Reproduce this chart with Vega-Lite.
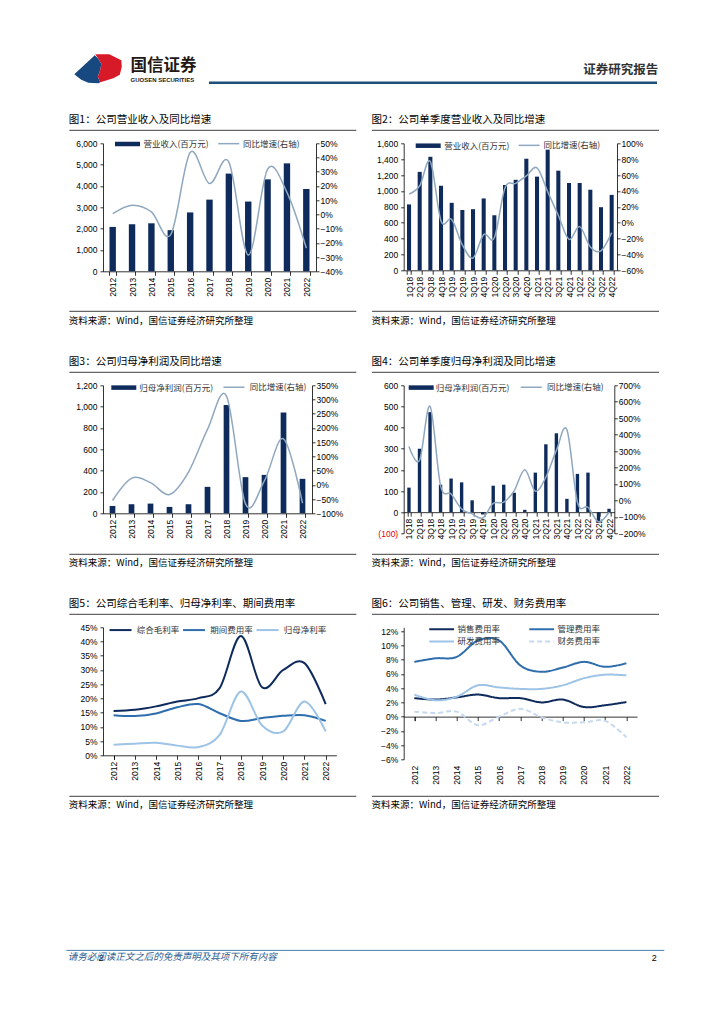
{
  "$schema": "https://vega.github.io/schema/vega-lite/v6.json",
  "background": "white",
  "padding": {"left": 65, "top": 53.5, "right": 5, "bottom": 5},
  "config": {
    "view": {"stroke": null},
    "font": "Liberation Sans",
    "axis": {"labelFont": "Liberation Sans", "labelFontSize": 8.5, "labelColor": "#000", "domainColor": "#000", "domainWidth": 0.8, "tickColor": "#000", "tickWidth": 0.8, "grid": false, "labelOverlap": false, "labelBound": false},
    "axisX": {"labelAngle": -90, "tickBand": "extent", "tickSize": 4, "labelPadding": 2},
    "axisLeft": {"tickSize": 3, "labelPadding": 3},
    "axisRight": {"tickSize": 3, "labelPadding": 1},
    "title": {"font": "Noto Sans CJK SC", "fontWeight": "normal", "color": "#000", "anchor": "start", "frame": "bounds"},
    "legend": {"labelFont": "Noto Sans CJK SC", "labelFontSize": 8.5, "labelColor": "#333", "padding": 0, "title": null}
  },
  "spacing": 29.8,
  "align": "each",
  "resolve": {"scale": {"fill": "independent", "stroke": "independent", "strokeDash": "independent"}, "legend": {"fill": "independent", "stroke": "independent", "strokeDash": "independent"}},
  "vconcat": [
    {
      "align": "each",
      "spacing": -2.2,
      "hconcat": [
        {
          "width": 28, "height": 1,
          "data": {"values": [{"part": "blue"}, {"part": "red"}]},
          "layer": [
            {"transform": [{"filter": "datum.part === 'blue'"}], "mark": {"type": "point", "shape": "M-42.7,-7.75L-22.2,-26.75L-18.7,-23.25L-15.7,-18.25L-16.7,-12.25L-19.2,-5.25L-16.7,0.25L-18.7,1.25L-28.7,0.75L-35.7,-2.25Z", "size": 4, "filled": true, "color": "#17487f", "opacity": 1, "strokeWidth": 0}, "encoding": {}},
            {"transform": [{"filter": "datum.part === 'red'"}], "mark": {"type": "point", "shape": "M-21.7,-27.75L-7.7,-27.75L-1.7,-24.75L4.3,-21.75L4.8,-15.25L2.8,-7.25L-3.7,-3.75L-16.7,0.25L-19.2,-5.25L-16.7,-12.25L-15.7,-18.25L-18.7,-23.25Z", "size": 4, "filled": true, "color": "#d71a28", "opacity": 1, "strokeWidth": 0}, "encoding": {}}
          ]
        },
        {
          "width": 77.2, "height": 2.5,
          "title": {"text": "国信证券", "subtitle": "GUOSEN SECURITIES", "fontSize": 16.5, "fontWeight": "bold", "color": "#231815", "subtitleFont": "Liberation Sans", "subtitleFontSize": 6, "subtitleFontWeight": "bold", "subtitleColor": "#231815", "subtitlePadding": 2.5, "offset": -1.5, "anchor": "start"},
          "data": {"values": [{}]}, "mark": "rule", "encoding": {}
        },
        {
          "width": 448, "height": 2.5,
          "title": {"text": "证券研究报告", "anchor": "end", "fontSize": 12.5, "fontWeight": "bold", "color": "#333", "offset": 5.5},
          "data": {"values": [{}]},
          "mark": {"type": "rule", "color": "#1f4e79", "strokeWidth": 2.5},
          "encoding": {
            "x": {"datum": 0, "type": "quantitative", "scale": {"domain": [0, 1], "nice": false, "zero": false}, "axis": null},
            "x2": {"datum": 1},
            "y": {"datum": 0.5, "type": "quantitative", "scale": {"domain": [0, 1], "nice": false, "zero": false}, "axis": null}
          }
        }
      ]
    },
    {
      "columns": 2,
      "bounds": "flush",
      "align": "each",
      "spacing": {"row": 4, "column": 46.7},
      "resolve": {"scale": {"fill": "independent", "stroke": "independent", "strokeDash": "independent"}, "legend": {"fill": "independent", "stroke": "independent", "strokeDash": "independent"}},
      "concat": [
        {"width": 253.3, "height": 14, "title": {"text": "图1：公司营业收入及同比增速", "fontSize": 10.5, "offset": 0}, "data": {"values": [{}]}, "mark": {"type": "rule", "color": "#404040", "strokeWidth": 1}, "encoding": {"x": {"datum": -0.13304, "type": "quantitative", "scale": {"domain": [0, 1], "nice": false, "zero": false}, "axis": null}, "x2": {"datum": 1}, "y": {"datum": 0.642857, "type": "quantitative", "scale": {"domain": [0, 1], "nice": false, "zero": false}, "axis": null}}},
        {"width": 255.3, "height": 14, "title": {"text": "图2：公司单季度营业收入及同比增速", "fontSize": 10.5, "offset": 0}, "data": {"values": [{}]}, "mark": {"type": "rule", "color": "#404040", "strokeWidth": 1}, "encoding": {"x": {"datum": -0.12417, "type": "quantitative", "scale": {"domain": [0, 1], "nice": false, "zero": false}, "axis": null}, "x2": {"datum": 1}, "y": {"datum": 0.642857, "type": "quantitative", "scale": {"domain": [0, 1], "nice": false, "zero": false}, "axis": null}}},
        {
          "width": 213, "height": 128,
          "data": {"values": [
            {"p": "2012", "v": 2080, "g": 0.005},
            {"p": "2013", "v": 2210, "g": 0.065},
            {"p": "2014", "v": 2250, "g": 0.018},
            {"p": "2015", "v": 1930, "g": -0.142},
            {"p": "2016", "v": 2760, "g": 0.435},
            {"p": "2017", "v": 3360, "g": 0.217},
            {"p": "2018", "v": 4580, "g": 0.368},
            {"p": "2019", "v": 3270, "g": -0.286},
            {"p": "2020", "v": 4310, "g": 0.318},
            {"p": "2021", "v": 5060, "g": 0.155},
            {"p": "2022", "v": 3860, "g": -0.237}
          ]},
          "encoding": {"x": {"field": "p", "type": "ordinal", "sort": null, "scale": {"paddingInner": 0.67, "paddingOuter": 0.335}, "axis": {"title": null}}},
          "layer": [
            {"mark": {"type": "bar"}, "encoding": {
              "y": {"field": "v", "type": "quantitative", "scale": {"domain": [0, 6000], "nice": false}, "axis": {"title": null, "orient": "left", "values": [0, 1000, 2000, 3000, 4000, 5000, 6000], "format": ",d"}},
              "fill": {"datum": "营业收入(百万元)", "type": "nominal", "scale": {"range": ["#0e2b5c"]}, "legend": {"orient": "none", "legendX": 18, "legendY": -5.8, "symbolType": "M-2,-0.36H2V0.36H-2Z", "symbolSize": 156.25, "symbolStrokeWidth": 0, "labelOffset": 9.5, "title": null}}}},
            {"mark": {"type": "line", "interpolate": "cardinal", "strokeWidth": 1.5}, "encoding": {
              "y": {"field": "g", "type": "quantitative", "scale": {"domain": [-0.4, 0.5], "nice": false}, "axis": {"title": null, "orient": "right", "values": [-0.4, -0.3, -0.2, -0.1, 0, 0.1, 0.2, 0.3, 0.4, 0.5], "format": ".0%"}},
              "stroke": {"datum": "同比增速(右轴)", "type": "nominal", "scale": {"range": ["#8fa8bf"]}, "legend": {"orient": "none", "legendX": 121.5, "legendY": -3.9, "symbolType": "M-4,0H4", "symbolSize": 27.6, "symbolStrokeWidth": 1.5, "labelOffset": 10, "title": null}}}}
          ],
          "resolve": {"scale": {"y": "independent"}}
        },
        {
          "width": 213.3, "height": 127,
          "data": {"values": [
            {"p": "1Q18", "v": 830, "g": 0.36},
            {"p": "2Q18", "v": 1240, "g": 0.465},
            {"p": "3Q18", "v": 1430, "g": 0.77},
            {"p": "4Q18", "v": 1065, "g": 0.02},
            {"p": "1Q19", "v": 850, "g": 0.04},
            {"p": "2Q19", "v": 760, "g": -0.28},
            {"p": "3Q19", "v": 770, "g": -0.445},
            {"p": "4Q19", "v": 905, "g": -0.15},
            {"p": "1Q20", "v": 695, "g": -0.19},
            {"p": "2Q20", "v": 1075, "g": 0.44},
            {"p": "3Q20", "v": 1140, "g": 0.495},
            {"p": "4Q20", "v": 1405, "g": 0.59},
            {"p": "1Q21", "v": 1180, "g": 0.69},
            {"p": "2Q21", "v": 1520, "g": 0.39},
            {"p": "3Q21", "v": 1255, "g": 0.09},
            {"p": "4Q21", "v": 1100, "g": -0.21},
            {"p": "1Q22", "v": 1100, "g": -0.05},
            {"p": "2Q22", "v": 1015, "g": -0.305},
            {"p": "3Q22", "v": 795, "g": -0.355},
            {"p": "4Q22", "v": 950, "g": -0.125}
          ]},
          "encoding": {"x": {"field": "p", "type": "ordinal", "sort": null, "scale": {"paddingInner": 0.62, "paddingOuter": 0.31}, "axis": {"title": null}}},
          "layer": [
            {"mark": {"type": "bar"}, "encoding": {
              "y": {"field": "v", "type": "quantitative", "scale": {"domain": [0, 1600], "nice": false}, "axis": {"title": null, "orient": "left", "values": [0, 200, 400, 600, 800, 1000, 1200, 1400, 1600], "format": ",d"}},
              "fill": {"datum": "营业收入(百万元)", "type": "nominal", "scale": {"range": ["#0e2b5c"]}, "legend": {"orient": "none", "legendX": 18, "legendY": -4.1, "symbolType": "M-2,-0.36H2V0.36H-2Z", "symbolSize": 156.25, "symbolStrokeWidth": 0, "labelOffset": 9.5, "title": null}}}},
            {"mark": {"type": "line", "interpolate": "cardinal", "strokeWidth": 1.5}, "encoding": {
              "y": {"field": "g", "type": "quantitative", "scale": {"domain": [-0.6, 1.0], "nice": false}, "axis": {"title": null, "orient": "right", "values": [-0.6, -0.4, -0.2, 0, 0.2, 0.4, 0.6, 0.8, 1.0], "format": ".0%"}},
              "stroke": {"datum": "同比增速(右轴)", "type": "nominal", "scale": {"range": ["#8fa8bf"]}, "legend": {"orient": "none", "legendX": 121.2, "legendY": -2.2, "symbolType": "M-4,0H4", "symbolSize": 27.6, "symbolStrokeWidth": 1.5, "labelOffset": 10, "title": null}}}}
          ],
          "resolve": {"scale": {"y": "independent"}}
        },
        {"width": 253.3, "height": 41, "title": {"text": "资料来源：Wind，国信证券经济研究所整理", "orient": "bottom", "fontSize": 9.5, "offset": 0}, "data": {"values": [{}]}, "mark": {"type": "rule", "color": "#404040", "strokeWidth": 1}, "encoding": {"x": {"datum": -0.13304, "type": "quantitative", "scale": {"domain": [0, 1], "nice": false, "zero": false}, "axis": null}, "x2": {"datum": 1}, "y": {"datum": 0.12195, "type": "quantitative", "scale": {"domain": [0, 1], "nice": false, "zero": false}, "axis": null}}},
        {"width": 255.3, "height": 41, "title": {"text": "资料来源：Wind，国信证券经济研究所整理", "orient": "bottom", "fontSize": 9.5, "offset": 0}, "data": {"values": [{}]}, "mark": {"type": "rule", "color": "#404040", "strokeWidth": 1}, "encoding": {"x": {"datum": -0.12417, "type": "quantitative", "scale": {"domain": [0, 1], "nice": false, "zero": false}, "axis": null}, "x2": {"datum": 1}, "y": {"datum": 0.12195, "type": "quantitative", "scale": {"domain": [0, 1], "nice": false, "zero": false}, "axis": null}}},
        {"width": 1, "height": 43, "data": {"values": [{}]}, "mark": "rule", "encoding": {}},
        {"width": 1, "height": 43, "data": {"values": [{}]}, "mark": "rule", "encoding": {}},
        {"width": 253.3, "height": 14, "title": {"text": "图3：公司归母净利润及同比增速", "fontSize": 10.5, "offset": 0}, "data": {"values": [{}]}, "mark": {"type": "rule", "color": "#404040", "strokeWidth": 1}, "encoding": {"x": {"datum": -0.13304, "type": "quantitative", "scale": {"domain": [0, 1], "nice": false, "zero": false}, "axis": null}, "x2": {"datum": 1}, "y": {"datum": 0.642857, "type": "quantitative", "scale": {"domain": [0, 1], "nice": false, "zero": false}, "axis": null}}},
        {"width": 255.3, "height": 14, "title": {"text": "图4：公司单季度归母净利润及同比增速", "fontSize": 10.5, "offset": 0}, "data": {"values": [{}]}, "mark": {"type": "rule", "color": "#404040", "strokeWidth": 1}, "encoding": {"x": {"datum": -0.12417, "type": "quantitative", "scale": {"domain": [0, 1], "nice": false, "zero": false}, "axis": null}, "x2": {"datum": 1}, "y": {"datum": 0.642857, "type": "quantitative", "scale": {"domain": [0, 1], "nice": false, "zero": false}, "axis": null}}},
        {
          "width": 209, "height": 128,
          "data": {"values": [
            {"p": "2012", "v": 69, "g": -0.55},
            {"p": "2013", "v": 85, "g": 0.23},
            {"p": "2014", "v": 91, "g": 0.08},
            {"p": "2015", "v": 60, "g": -0.34},
            {"p": "2016", "v": 85, "g": 0.45},
            {"p": "2017", "v": 248, "g": 1.95},
            {"p": "2018", "v": 1015, "g": 3.12},
            {"p": "2019", "v": 339, "g": -0.67},
            {"p": "2020", "v": 360, "g": 0.15},
            {"p": "2021", "v": 945, "g": 1.62},
            {"p": "2022", "v": 323, "g": -0.64}
          ]},
          "encoding": {"x": {"field": "p", "type": "ordinal", "sort": null, "scale": {"paddingInner": 0.7, "paddingOuter": 0.35}, "axis": {"title": null}}},
          "layer": [
            {"mark": {"type": "bar"}, "encoding": {
              "y": {"field": "v", "type": "quantitative", "scale": {"domain": [0, 1200], "nice": false}, "axis": {"title": null, "orient": "left", "values": [0, 200, 400, 600, 800, 1000, 1200], "format": ",d"}},
              "fill": {"datum": "归母净利润(百万元)", "type": "nominal", "scale": {"range": ["#0e2b5c"]}, "legend": {"orient": "none", "legendX": 14.3, "legendY": -4.2, "symbolType": "M-2,-0.36H2V0.36H-2Z", "symbolSize": 156.25, "symbolStrokeWidth": 0, "labelOffset": 9, "title": null}}}},
            {"mark": {"type": "line", "interpolate": "cardinal", "strokeWidth": 1.5}, "encoding": {
              "y": {"field": "g", "type": "quantitative", "scale": {"domain": [-1, 3.5], "nice": false}, "axis": {"title": null, "orient": "right", "values": [-1, -0.5, 0, 0.5, 1, 1.5, 2, 2.5, 3, 3.5], "format": ".0%"}},
              "stroke": {"datum": "同比增速(右轴)", "type": "nominal", "scale": {"range": ["#8fa8bf"]}, "legend": {"orient": "none", "legendX": 126.7, "legendY": -2.3, "symbolType": "M-4,0H4", "symbolSize": 27.6, "symbolStrokeWidth": 1.5, "labelOffset": 11.5, "title": null}}}}
          ],
          "resolve": {"scale": {"y": "independent"}}
        },
        {
          "width": 210.6, "height": 148,
          "data": {"values": [
            {"p": "1Q18", "v": 116, "g": 3.28},
            {"p": "2Q18", "v": 300, "g": 2.43},
            {"p": "3Q18", "v": 473, "g": 5.72},
            {"p": "4Q18", "v": 130, "g": 0.9},
            {"p": "1Q19", "v": 159, "g": 0.39},
            {"p": "2Q19", "v": 141, "g": -0.52},
            {"p": "3Q19", "v": 56, "g": -0.82},
            {"p": "4Q19", "v": -11, "g": -1.07},
            {"p": "1Q20", "v": 125, "g": -0.18},
            {"p": "2Q20", "v": 130, "g": -0.11},
            {"p": "3Q20", "v": 92, "g": 0.6},
            {"p": "4Q20", "v": 11, "g": 1.86},
            {"p": "1Q21", "v": 187, "g": 0.56},
            {"p": "2Q21", "v": 321, "g": 1.41},
            {"p": "3Q21", "v": 373, "g": 3.04},
            {"p": "4Q21", "v": 63, "g": 4.3},
            {"p": "1Q22", "v": 181, "g": -0.11},
            {"p": "2Q22", "v": 187, "g": -0.42},
            {"p": "3Q22", "v": -50, "g": -1.29},
            {"p": "4Q22", "v": 16, "g": -0.72}
          ]},
          "encoding": {"x": {"field": "p", "type": "ordinal", "sort": null, "scale": {"paddingInner": 0.68, "paddingOuter": 0.34}, "axis": {"title": null, "offset": -21.14}}},
          "layer": [
            {"mark": {"type": "bar"}, "encoding": {
              "y": {"field": "v", "type": "quantitative", "scale": {"domain": [-100, 600], "nice": false}, "axis": {"title": null, "orient": "left", "values": [-100, 0, 100, 200, 300, 400, 500, 600], "labelExpr": "datum.value < 0 ? '(' + format(-datum.value, ',') + ')' : format(datum.value, ',')", "labelColor": {"condition": {"test": "datum.value < 0", "value": "#e60000"}, "value": "#000"}}},
              "fill": {"datum": "归母净利润(百万元)", "type": "nominal", "scale": {"range": ["#0e2b5c"]}, "legend": {"orient": "none", "legendX": 11, "legendY": -4.2, "symbolType": "M-2,-0.36H2V0.36H-2Z", "symbolSize": 156.25, "symbolStrokeWidth": 0, "labelOffset": 8, "title": null}}}},
            {"mark": {"type": "line", "interpolate": "cardinal", "strokeWidth": 1.5}, "encoding": {
              "y": {"field": "g", "type": "quantitative", "scale": {"domain": [-2, 7], "nice": false}, "axis": {"title": null, "orient": "right", "values": [-2, -1, 0, 1, 2, 3, 4, 5, 6, 7], "format": ".0%"}},
              "stroke": {"datum": "同比增速(右轴)", "type": "nominal", "scale": {"range": ["#8fa8bf"]}, "legend": {"orient": "none", "legendX": 123.3, "legendY": -2.3, "symbolType": "M-4,0H4", "symbolSize": 27.6, "symbolStrokeWidth": 1.5, "labelOffset": 11.5, "title": null}}}}
          ],
          "resolve": {"scale": {"y": "independent"}}
        },
        {"width": 253.3, "height": 21, "title": {"text": "资料来源：Wind，国信证券经济研究所整理", "orient": "bottom", "fontSize": 9.5, "offset": 0}, "data": {"values": [{}]}, "mark": {"type": "rule", "color": "#404040", "strokeWidth": 1}, "encoding": {"x": {"datum": -0.13304, "type": "quantitative", "scale": {"domain": [0, 1], "nice": false, "zero": false}, "axis": null}, "x2": {"datum": 1}, "y": {"datum": 0.190476, "type": "quantitative", "scale": {"domain": [0, 1], "nice": false, "zero": false}, "axis": null}}},
        {"width": 255.3, "height": 21, "title": {"text": "资料来源：Wind，国信证券经济研究所整理", "orient": "bottom", "fontSize": 9.5, "offset": 0}, "data": {"values": [{}]}, "mark": {"type": "rule", "color": "#404040", "strokeWidth": 1}, "encoding": {"x": {"datum": -0.12417, "type": "quantitative", "scale": {"domain": [0, 1], "nice": false, "zero": false}, "axis": null}, "x2": {"datum": 1}, "y": {"datum": 0.190476, "type": "quantitative", "scale": {"domain": [0, 1], "nice": false, "zero": false}, "axis": null}}},
        {"width": 1, "height": 43, "data": {"values": [{}]}, "mark": "rule", "encoding": {}},
        {"width": 1, "height": 43, "data": {"values": [{}]}, "mark": "rule", "encoding": {}},
        {"width": 253.3, "height": 14, "title": {"text": "图5：公司综合毛利率、归母净利率、期间费用率", "fontSize": 10.5, "offset": 0}, "data": {"values": [{}]}, "mark": {"type": "rule", "color": "#404040", "strokeWidth": 1}, "encoding": {"x": {"datum": -0.13304, "type": "quantitative", "scale": {"domain": [0, 1], "nice": false, "zero": false}, "axis": null}, "x2": {"datum": 1}, "y": {"datum": 0.642857, "type": "quantitative", "scale": {"domain": [0, 1], "nice": false, "zero": false}, "axis": null}}},
        {"width": 255.3, "height": 14, "title": {"text": "图6：公司销售、管理、研发、财务费用率", "fontSize": 10.5, "offset": 0}, "data": {"values": [{}]}, "mark": {"type": "rule", "color": "#404040", "strokeWidth": 1}, "encoding": {"x": {"datum": -0.12417, "type": "quantitative", "scale": {"domain": [0, 1], "nice": false, "zero": false}, "axis": null}, "x2": {"datum": 1}, "y": {"datum": 0.642857, "type": "quantitative", "scale": {"domain": [0, 1], "nice": false, "zero": false}, "axis": null}}},
        {
          "width": 233.3, "height": 128,
          "data": {"values": [
            {"y": "2012", "s": "综合毛利率", "v": 0.156}, {"y": "2013", "s": "综合毛利率", "v": 0.16}, {"y": "2014", "s": "综合毛利率", "v": 0.172}, {"y": "2015", "s": "综合毛利率", "v": 0.189}, {"y": "2016", "s": "综合毛利率", "v": 0.201}, {"y": "2017", "s": "综合毛利率", "v": 0.236}, {"y": "2018", "s": "综合毛利率", "v": 0.419}, {"y": "2019", "s": "综合毛利率", "v": 0.239}, {"y": "2020", "s": "综合毛利率", "v": 0.3}, {"y": "2021", "s": "综合毛利率", "v": 0.324}, {"y": "2022", "s": "综合毛利率", "v": 0.18},
            {"y": "2012", "s": "期间费用率", "v": 0.141}, {"y": "2013", "s": "期间费用率", "v": 0.138}, {"y": "2014", "s": "期间费用率", "v": 0.147}, {"y": "2015", "s": "期间费用率", "v": 0.169}, {"y": "2016", "s": "期间费用率", "v": 0.18}, {"y": "2017", "s": "期间费用率", "v": 0.148}, {"y": "2018", "s": "期间费用率", "v": 0.121}, {"y": "2019", "s": "期间费用率", "v": 0.131}, {"y": "2020", "s": "期间费用率", "v": 0.139}, {"y": "2021", "s": "期间费用率", "v": 0.141}, {"y": "2022", "s": "期间费用率", "v": 0.121},
            {"y": "2012", "s": "归母净利率", "v": 0.037}, {"y": "2013", "s": "归母净利率", "v": 0.041}, {"y": "2014", "s": "归母净利率", "v": 0.044}, {"y": "2015", "s": "归母净利率", "v": 0.034}, {"y": "2016", "s": "归母净利率", "v": 0.029}, {"y": "2017", "s": "归母净利率", "v": 0.072}, {"y": "2018", "s": "归母净利率", "v": 0.224}, {"y": "2019", "s": "归母净利率", "v": 0.105}, {"y": "2020", "s": "归母净利率", "v": 0.084}, {"y": "2021", "s": "归母净利率", "v": 0.189}, {"y": "2022", "s": "归母净利率", "v": 0.084}
          ]},
          "mark": {"type": "line", "interpolate": "cardinal", "strokeWidth": 2},
          "encoding": {
            "x": {"field": "y", "type": "ordinal", "sort": null, "axis": {"title": null}},
            "y": {"field": "v", "type": "quantitative", "scale": {"domain": [0, 0.45], "nice": false}, "axis": {"title": null, "values": [0, 0.05, 0.1, 0.15, 0.2, 0.25, 0.3, 0.35, 0.4, 0.45], "format": ".0%"}},
            "stroke": {"field": "s", "type": "nominal", "scale": {"domain": ["综合毛利率", "期间费用率", "归母净利率"], "range": ["#0e2b5c", "#2e6ead", "#9dc3e6"]}, "legend": {"orient": "none", "direction": "horizontal", "legendX": 13.3, "legendY": -1.6, "symbolType": "M-4,0H4", "symbolSize": 30.25, "symbolStrokeWidth": 2, "labelOffset": 12, "columnPadding": -1.5, "title": null}}
          }
        },
        {
          "width": 233.3, "height": 132,
          "data": {"values": [
            {"y": "2012", "s": "销售费用率", "v": 0.026}, {"y": "2013", "s": "销售费用率", "v": 0.024}, {"y": "2014", "s": "销售费用率", "v": 0.027}, {"y": "2015", "s": "销售费用率", "v": 0.031}, {"y": "2016", "s": "销售费用率", "v": 0.026}, {"y": "2017", "s": "销售费用率", "v": 0.026}, {"y": "2018", "s": "销售费用率", "v": 0.02}, {"y": "2019", "s": "销售费用率", "v": 0.024}, {"y": "2020", "s": "销售费用率", "v": 0.0135}, {"y": "2021", "s": "销售费用率", "v": 0.016}, {"y": "2022", "s": "销售费用率", "v": 0.0205},
            {"y": "2012", "s": "管理费用率", "v": 0.077}, {"y": "2013", "s": "管理费用率", "v": 0.082}, {"y": "2014", "s": "管理费用率", "v": 0.084}, {"y": "2015", "s": "管理费用率", "v": 0.107}, {"y": "2016", "s": "管理费用率", "v": 0.107}, {"y": "2017", "s": "管理费用率", "v": 0.072}, {"y": "2018", "s": "管理费用率", "v": 0.063}, {"y": "2019", "s": "管理费用率", "v": 0.069}, {"y": "2020", "s": "管理费用率", "v": 0.077}, {"y": "2021", "s": "管理费用率", "v": 0.07}, {"y": "2022", "s": "管理费用率", "v": 0.075},
            {"y": "2012", "s": "研发费用率", "v": 0.031}, {"y": "2013", "s": "研发费用率", "v": 0.023}, {"y": "2014", "s": "研发费用率", "v": 0.028}, {"y": "2015", "s": "研发费用率", "v": 0.044}, {"y": "2016", "s": "研发费用率", "v": 0.041}, {"y": "2017", "s": "研发费用率", "v": 0.039}, {"y": "2018", "s": "研发费用率", "v": 0.039}, {"y": "2019", "s": "研发费用率", "v": 0.044}, {"y": "2020", "s": "研发费用率", "v": 0.054}, {"y": "2021", "s": "研发费用率", "v": 0.059}, {"y": "2022", "s": "研发费用率", "v": 0.058},
            {"y": "2012", "s": "财务费用率", "v": 0.007}, {"y": "2013", "s": "财务费用率", "v": 0.005}, {"y": "2014", "s": "财务费用率", "v": 0.007}, {"y": "2015", "s": "财务费用率", "v": -0.012}, {"y": "2016", "s": "财务费用率", "v": 0.0}, {"y": "2017", "s": "财务费用率", "v": 0.011}, {"y": "2018", "s": "财务费用率", "v": -0.001}, {"y": "2019", "s": "财务费用率", "v": -0.008}, {"y": "2020", "s": "财务费用率", "v": -0.008}, {"y": "2021", "s": "财务费用率", "v": -0.006}, {"y": "2022", "s": "财务费用率", "v": -0.029}
          ]},
          "mark": {"type": "line", "interpolate": "cardinal", "strokeWidth": 2},
          "encoding": {
            "x": {"field": "y", "type": "ordinal", "sort": null, "axis": {"title": null, "offset": -42.67, "labelPadding": 44.67}},
            "y": {"field": "v", "type": "quantitative", "scale": {"domain": [-0.06, 0.1256], "nice": false}, "axis": {"title": null, "values": [-0.06, -0.04, -0.02, 0, 0.02, 0.04, 0.06, 0.08, 0.1, 0.12], "format": ".0%"}},
            "stroke": {"field": "s", "type": "nominal", "scale": {"domain": ["销售费用率", "管理费用率", "研发费用率", "财务费用率"], "range": ["#0e2b5c", "#2e6ead", "#9dc3e6", "#c6d9f0"]}, "legend": {"orient": "none", "direction": "horizontal", "columns": 2, "legendX": 33.7, "legendY": -2.5, "symbolType": "M-4.5,0H4.5", "symbolSize": 30.25, "symbolStrokeWidth": 2, "labelOffset": 11.6, "columnPadding": 24, "rowPadding": 3.4, "title": null}},
            "strokeDash": {"field": "s", "type": "nominal", "scale": {"domain": ["销售费用率", "管理费用率", "研发费用率", "财务费用率"], "range": [[1, 0], [1, 0], [1, 0], [5, 3]]}, "legend": {"orient": "none", "direction": "horizontal", "columns": 2, "legendX": 33.7, "legendY": -2.5, "symbolType": "M-4.5,0H4.5", "symbolSize": 30.25, "symbolStrokeWidth": 2, "labelOffset": 11.6, "columnPadding": 24, "rowPadding": 3.4, "title": null}}
          }
        },
        {"width": 253.3, "height": 37, "title": {"text": "资料来源：Wind，国信证券经济研究所整理", "orient": "bottom", "fontSize": 9.5, "offset": 0}, "data": {"values": [{}]}, "mark": {"type": "rule", "color": "#404040", "strokeWidth": 1}, "encoding": {"x": {"datum": -0.13304, "type": "quantitative", "scale": {"domain": [0, 1], "nice": false, "zero": false}, "axis": null}, "x2": {"datum": 1}, "y": {"datum": 0.108108, "type": "quantitative", "scale": {"domain": [0, 1], "nice": false, "zero": false}, "axis": null}}},
        {"width": 255.3, "height": 37, "title": {"text": "资料来源：Wind，国信证券经济研究所整理", "orient": "bottom", "fontSize": 9.5, "offset": 0}, "data": {"values": [{}]}, "mark": {"type": "rule", "color": "#404040", "strokeWidth": 1}, "encoding": {"x": {"datum": -0.12417, "type": "quantitative", "scale": {"domain": [0, 1], "nice": false, "zero": false}, "axis": null}, "x2": {"datum": 1}, "y": {"datum": 0.108108, "type": "quantitative", "scale": {"domain": [0, 1], "nice": false, "zero": false}, "axis": null}}}
      ]
    },
    {"width": 1, "height": 78.1, "data": {"values": [{}]}, "mark": "rule", "encoding": {}},
    {
      "width": 561.3, "height": 1,
      "title": {"text": "请务必阅读正文之后的免责声明及其项下所有内容", "orient": "bottom", "anchor": "start", "dx": 2, "offset": -11, "fontSize": 9.5, "fontStyle": "italic", "color": "#2c5d8f"},
      "data": {"values": [{}]},
      "mark": {"type": "rule", "color": "#4a7eb0", "strokeWidth": 1},
      "encoding": {
        "x": {"datum": -0.06538, "type": "quantitative", "scale": {"domain": [0, 1], "nice": false, "zero": false}, "axis": {"orient": "bottom", "values": [0.9857], "labelExpr": "'2'", "domain": false, "ticks": false, "tickSize": 0, "labelAngle": 0, "labelAlign": "right", "labelBaseline": "top", "labelFlush": false, "labelPadding": 3, "labelFontSize": 9, "labelColor": "#000", "title": null}},
        "x2": {"datum": 1},
        "y": {"datum": 0.5, "type": "quantitative", "scale": {"domain": [0, 1], "nice": false, "zero": false}, "axis": null}
      }
    }
  ]
}
